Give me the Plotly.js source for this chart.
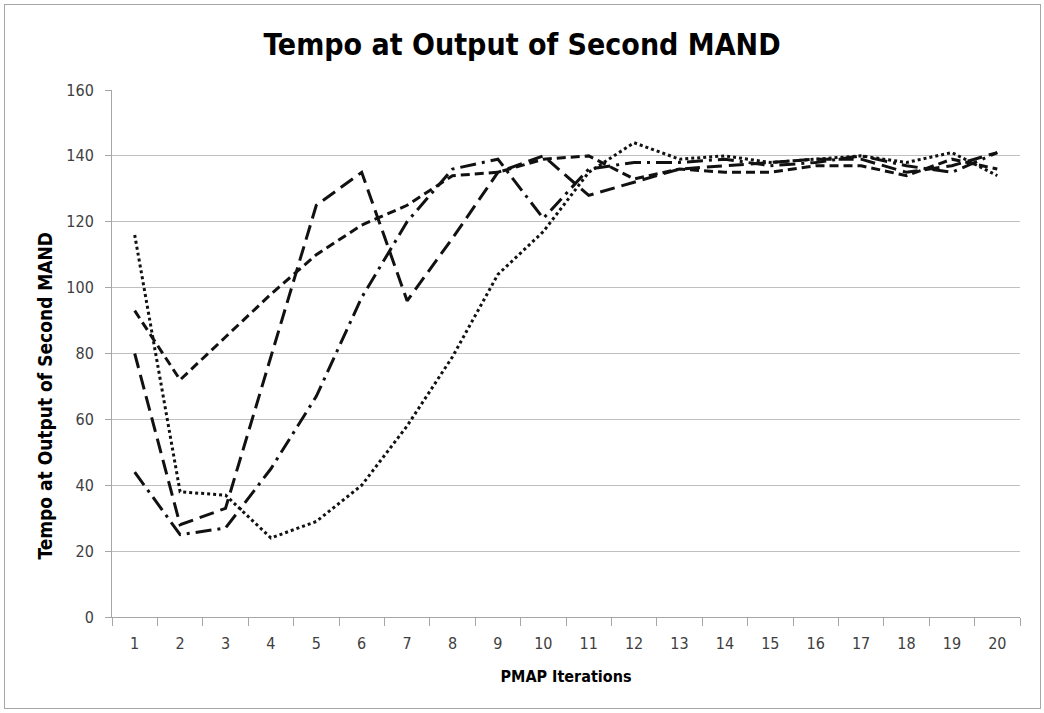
<!DOCTYPE html>
<html>
<head>
<meta charset="utf-8">
<script src="https://cdn.plot.ly/plotly-3.0.1.min.js"></script>
<style>
html,body{margin:0;padding:0;background:#fff;}
#chart{width:1044px;height:713px;}
#frame{position:absolute;left:4px;top:4px;width:1035px;height:703px;border:1px solid #a6a6a6;pointer-events:none;}
</style>
</head>
<body>
<div id="chart"></div>
<div id="frame"></div>
<script>
const iterations = ['1','2','3','4','5','6','7','8','9','10','11','12','13','14','15','16','17','18','19','20'];
const seriesShortDash = [93,72,85,98,110,119,125,134,135,139,140,133,136,135,135,137,137,134,139,136];
const seriesLongDash  = [80,28,33,79,125,135,96,115,135,140,128,132,136,137,138,139,139,135,137,141];
const seriesDashDot   = [44,25,27,45,67,97,120,136,139,121,136,138,138,139,137,138,140,137,135,141];
const seriesDotted    = [116,38,37,24,29,40,58,79,104,117,135,144,139,140,138,139,140,138,141,134];
const yTicks = [0,20,40,60,80,100,120,140,160];

const font = 'Liberation Sans Narrow, DejaVu Sans Condensed, Arial Narrow, sans-serif';
function tr(y, dash, w){
  return {x: iterations, y: y, type:'scatter', mode:'lines',
          line:{color:'#111', width:w, dash:dash}, hoverinfo:'skip', showlegend:false};
}
const data = [
  tr(seriesShortDash, '9px,5px', 3),
  tr(seriesLongDash, '15px,7px', 3),
  tr(seriesDashDot, '16px,6px,3px,6px', 3),
  tr(seriesDotted, '3px,3px', 3)
];
const layout = {
  width:1044, height:713,
  margin:{l:112, r:24, t:90, b:96},
  paper_bgcolor:'#fff', plot_bgcolor:'#fff',
  title:{text:'<b>Tempo at Output of Second MAND</b>', x:0.5, xanchor:'center', y:0.937, yanchor:'middle',
         font:{family:font, size:30, color:'#000'}},
  xaxis:{type:'category', range:[-0.5,19.5], tickson:'boundaries', ticks:'outside', ticklen:8, tickcolor:'#a6a6a6',
         showline:true, linecolor:'#a6a6a6', linewidth:1, showgrid:false, zeroline:false,
         ticklabelstandoff:12,
         tickfont:{family:font, size:16, color:'#404040'},
         title:{text:'<b>PMAP Iterations</b>', font:{family:font, size:16, color:'#000'}, standoff:18},
         fixedrange:true},
  yaxis:{range:[0,160], tickvals:yTicks, ticktext:yTicks.map(String), ticks:'outside', ticklen:6,
         tickcolor:'#a6a6a6', showline:true, linecolor:'#a6a6a6', linewidth:1,
         showgrid:true, gridcolor:'#bfbfbf', gridwidth:1, zeroline:false,
         ticklabelstandoff:8,
         tickfont:{family:font, size:16, color:'#404040'},
         fixedrange:true},
  annotations:[{text:'<b>Tempo at Output of Second MAND</b>', textangle:-90, showarrow:false,
                xref:'paper', yref:'paper', x:-0.074, y:0.42, xanchor:'center', yanchor:'middle',
                font:{family:font, size:19, color:'#000'}}]
};
Plotly.newPlot('chart', data, layout, {displayModeBar:false, staticPlot:true});
</script>
</body>
</html>
